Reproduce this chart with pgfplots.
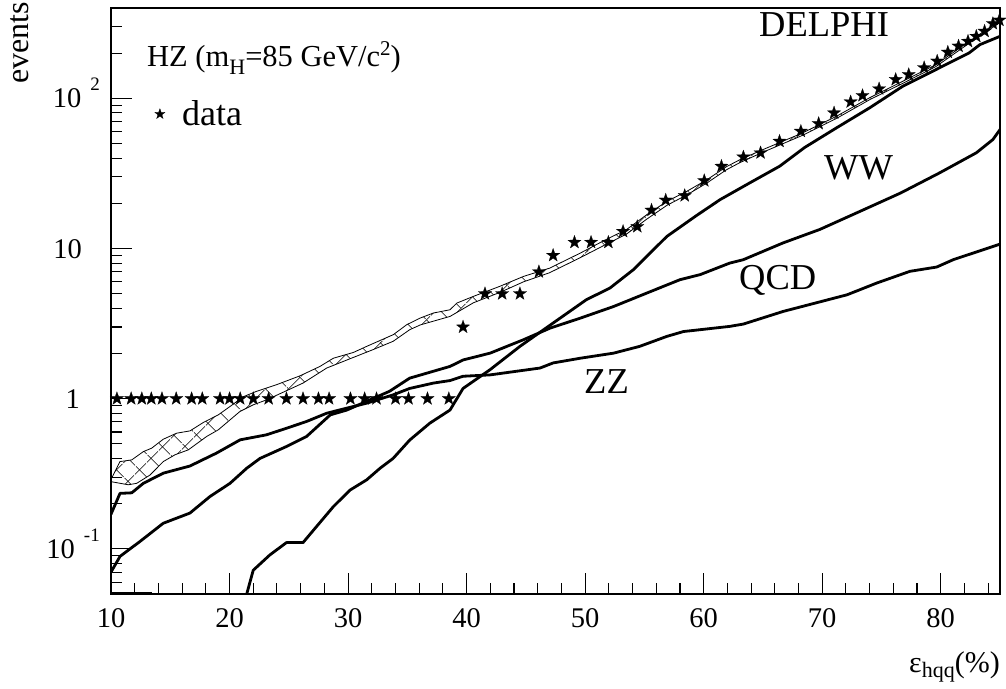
\documentclass[border=0pt]{standalone}
\usepackage{fontspec}
\setmainfont{Liberation Serif}
\usepackage{pgfplots}
\pgfplotsset{compat=1.18}
\usetikzlibrary{patterns.meta}

\pgfdeclareplotmark{fstar}{%
  \pgfpathmoveto{\pgfpointpolar{90}{\pgfplotmarksize}}%
  \pgfpathlineto{\pgfpointpolar{126}{0.4*\pgfplotmarksize}}%
  \pgfpathlineto{\pgfpointpolar{162}{\pgfplotmarksize}}%
  \pgfpathlineto{\pgfpointpolar{198}{0.4*\pgfplotmarksize}}%
  \pgfpathlineto{\pgfpointpolar{234}{\pgfplotmarksize}}%
  \pgfpathlineto{\pgfpointpolar{270}{0.4*\pgfplotmarksize}}%
  \pgfpathlineto{\pgfpointpolar{306}{\pgfplotmarksize}}%
  \pgfpathlineto{\pgfpointpolar{342}{0.4*\pgfplotmarksize}}%
  \pgfpathlineto{\pgfpointpolar{18}{\pgfplotmarksize}}%
  \pgfpathlineto{\pgfpointpolar{54}{0.4*\pgfplotmarksize}}%
  \pgfpathclose
  \pgfusepathqfillstroke}

\newcommand\fbig{\fontsize{36.5}{40}\selectfont}
\newcommand\ftick{\fontsize{28.5}{30}\selectfont}
\newcommand\tenexp[1]{10\hspace{9pt}\raisebox{17pt}{\fontsize{19}{20}\selectfont #1}}

\begin{document}
\begin{tikzpicture}
\useasboundingbox (0,0) rectangle (1006pt,688pt);
\begin{axis}[
  at={(111pt,94pt)}, anchor=south west,
  scale only axis, width=889pt, height=586pt,
  xmin=10, xmax=85, ymode=log, ymin=0.05, ymax=400,
  axis line style={line width=1.2pt},
  xtick={10,20,30,40,50,60,70,80},
  xticklabels={10,20,30,40,50,60,70,80},
  minor xtick={12,14,16,18,22,24,26,28,32,34,36,38,42,44,46,48,52,54,56,58,62,64,66,68,72,74,76,78,82,84},
  ytick={0.1,1,10,100},
  yticklabels={\tenexp{-1},1\rule{20pt}{0pt},10\rule{18pt}{0pt},\tenexp{2}},
  minor ytick={0.05,0.06,0.07,0.08,0.09,0.2,0.3,0.4,0.5,0.6,0.7,0.8,0.9,2,3,4,5,6,7,8,9,20,30,40,50,60,70,80,90,200,300,400},
  tick align=inside, xtick pos=left, ytick pos=left,
  major tick length=21pt, minor tick length=11pt,
  xtick style={black, line width=1.1pt},
  ytick style={black, line width=1.1pt},
  tick label style={font=\ftick},
  xticklabel style={anchor=north, inner sep=0pt, yshift=-14pt},
  yticklabel style={anchor=base east, inner sep=0pt, xshift=-11pt, yshift=-9.5pt},
  legend style={at={(0.0489,0.819)}, anchor=west, draw=none, fill=none,
    inner sep=0pt, font=\fontsize{36}{38}\selectfont,
    nodes={inner sep=0pt}, column sep=17pt},
  legend image code/.code={\draw[#1,mark size=5.5pt] plot coordinates {(0pt,0pt)};},
]
% total MC band: hatched area (upper edge, then lower edge reversed)
\addplot[draw=none, pattern={Lines[angle=45,distance=17pt,line width=0.6pt]}, forget plot] coordinates {
(10.0,0.29)(10.76,0.381)(11.75,0.391)(12.73,0.444)(13.43,0.468)(14.41,0.537)(15.54,0.589)(16.66,0.61)(17.79,0.694)(19.05,0.78)(20.04,0.887)(21.16,1.03)(22.29,1.12)(23.98,1.24)(25.95,1.42)(27.63,1.64)(28.76,1.86)(30.44,2.03)(31.57,2.23)(33.82,2.67)(34.95,3.11)(36.07,3.44)(37.2,3.72)(38.6,3.91)(39.17,4.33)(40.57,4.8)(42.8,5.6)(44.8,6.52)(47.0,7.4)(49.6,9.33)(51.5,11.2)(53.5,13.4)(55.2,16.8)(56.9,20.6)(58.6,24.1)(60.3,28.8)(61.9,35)(63.07,39.1)(65.0,45.6)(68.35,58.9)(71.2,76)(74.0,101)(76.8,130)(79.6,168)(82.4,240)(85,330)
(85,320)(82.4,233)(79.6,163)(76.8,126)(74.0,98)(71.2,73.5)(68.35,56.8)(65.0,43.8)(63.07,37.4)(61.9,33.4)(60.3,27.4)(58.6,22.8)(56.9,19.4)(55.2,15.7)(53.5,12.5)(51.5,10.4)(49.6,8.7)(47.0,6.9)(44.8,6.0)(42.8,5.1)(40.57,4.35)(38.6,3.53)(36.1,3.1)(35.2,2.88)(33.8,2.41)(32.1,2.12)(29.9,1.81)(28.2,1.6)(26.2,1.27)(24.7,1.12)(23.1,0.98)(22.0,0.91)(20.88,0.822)(19.05,0.62)(18.07,0.56)(16.52,0.456)(15.4,0.423)(14.41,0.381)(13.29,0.31)(12.17,0.273)(11.46,0.267)(10.0,0.28)} -- cycle;
\addplot[draw=none, pattern={Lines[angle=-45,distance=17pt,line width=0.6pt]}, forget plot] coordinates {
(10.0,0.29)(10.76,0.381)(11.75,0.391)(12.73,0.444)(13.43,0.468)(14.41,0.537)(15.54,0.589)(16.66,0.61)(17.79,0.694)(19.05,0.78)(20.04,0.887)(21.16,1.03)(22.29,1.12)(23.98,1.24)(25.95,1.42)(27.63,1.64)(28.76,1.86)(30.44,2.03)(31.57,2.23)(33.82,2.67)(34.95,3.11)(36.07,3.44)(37.2,3.72)(38.6,3.91)(39.17,4.33)(40.57,4.8)(42.8,5.6)(44.8,6.52)(47.0,7.4)(49.6,9.33)(51.5,11.2)(53.5,13.4)(55.2,16.8)(56.9,20.6)(58.6,24.1)(60.3,28.8)(61.9,35)(63.07,39.1)(65.0,45.6)(68.35,58.9)(71.2,76)(74.0,101)(76.8,130)(79.6,168)(82.4,240)(85,330)
(85,320)(82.4,233)(79.6,163)(76.8,126)(74.0,98)(71.2,73.5)(68.35,56.8)(65.0,43.8)(63.07,37.4)(61.9,33.4)(60.3,27.4)(58.6,22.8)(56.9,19.4)(55.2,15.7)(53.5,12.5)(51.5,10.4)(49.6,8.7)(47.0,6.9)(44.8,6.0)(42.8,5.1)(40.57,4.35)(38.6,3.53)(36.1,3.1)(35.2,2.88)(33.8,2.41)(32.1,2.12)(29.9,1.81)(28.2,1.6)(26.2,1.27)(24.7,1.12)(23.1,0.98)(22.0,0.91)(20.88,0.822)(19.05,0.62)(18.07,0.56)(16.52,0.456)(15.4,0.423)(14.41,0.381)(13.29,0.31)(12.17,0.273)(11.46,0.267)(10.0,0.28)} -- cycle;
\addplot[black, line width=0.8pt, forget plot] coordinates {
(10.0,0.29)(10.76,0.381)(11.75,0.391)(12.73,0.444)(13.43,0.468)(14.41,0.537)(15.54,0.589)(16.66,0.61)(17.79,0.694)(19.05,0.78)(20.04,0.887)(21.16,1.03)(22.29,1.12)(23.98,1.24)(25.95,1.42)(27.63,1.64)(28.76,1.86)(30.44,2.03)(31.57,2.23)(33.82,2.67)(34.95,3.11)(36.07,3.44)(37.2,3.72)(38.6,3.91)(39.17,4.33)(40.57,4.8)(42.8,5.6)(44.8,6.52)(47.0,7.4)(49.6,9.33)(51.5,11.2)(53.5,13.4)(55.2,16.8)(56.9,20.6)(58.6,24.1)(60.3,28.8)(61.9,35)(63.07,39.1)(65.0,45.6)(68.35,58.9)(71.2,76)(74.0,101)(76.8,130)(79.6,168)(82.4,240)(85,330)};
\addplot[black, line width=0.8pt, forget plot] coordinates {
(10.0,0.28)(11.46,0.267)(12.17,0.273)(13.29,0.31)(14.41,0.381)(15.4,0.423)(16.52,0.456)(18.07,0.56)(19.05,0.62)(20.88,0.822)(22.0,0.91)(23.1,0.98)(24.7,1.12)(26.2,1.27)(28.2,1.6)(29.9,1.81)(32.1,2.12)(33.8,2.41)(35.2,2.88)(36.1,3.1)(38.6,3.53)(40.57,4.35)(42.8,5.1)(44.8,6.0)(47.0,6.9)(49.6,8.7)(51.5,10.4)(53.5,12.5)(55.2,15.7)(56.9,19.4)(58.6,22.8)(60.3,27.4)(61.9,33.4)(63.07,37.4)(65.0,43.8)(68.35,56.8)(71.2,73.5)(74.0,98)(76.8,126)(79.6,163)(82.4,233)(85,320)};
% WW
\addplot[black, line width=2.8pt, line join=round, forget plot] coordinates {
(21.3,0.045)(21.45,0.05)(22.0,0.072)(23.4,0.091)(24.8,0.11)(26.2,0.11)(27.35,0.141)(28.76,0.191)(30.16,0.246)(31.57,0.288)(32.7,0.344)(33.8,0.40)(35.2,0.53)(36.9,0.687)(38.6,0.84)(39.7,1.17)(41.98,1.56)(44.5,2.23)(47.3,3.19)(50.1,4.56)(52.1,5.46)(54.07,7.23)(55.2,8.87)(56.9,12.05)(59.4,16.6)(61.4,21.2)(63.9,27.4)(66.4,35.3)(68.5,47)(71.2,63.6)(74.0,86.5)(76.8,120.5)(79.6,155.6)(82.4,201)(83.3,228)(85,259)};
% QCD
\addplot[black, line width=2.8pt, line join=round, forget plot] coordinates {
(10.0,0.07)(10.76,0.089)(12.45,0.112)(14.41,0.148)(16.66,0.173)(18.35,0.223)(20.04,0.273)(21.45,0.344)(22.57,0.40)(24.8,0.48)(26.5,0.56)(28.5,0.78)(29.9,0.84)(31.57,0.96)(33.5,1.12)(35.2,1.37)(38.6,1.64)(39.7,1.81)(41.98,2.01)(44.8,2.47)(47.04,2.95)(49.6,3.44)(52.4,4.11)(55.2,5.05)(58.0,6.2)(59.7,6.7)(62.2,8.0)(63.35,8.43)(66.7,10.9)(69.8,13.4)(73.2,17.7)(76.6,23.4)(79.9,31.9)(83.0,43.4)(84.4,53.2)(85,62)};
% ZZ
\addplot[black, line width=2.8pt, line join=round, forget plot] coordinates {
(10.0,0.17)(10.76,0.234)(11.75,0.236)(12.73,0.273)(14.41,0.319)(16.66,0.356)(18.9,0.434)(20.9,0.532)(23.1,0.574)(24.8,0.635)(26.5,0.705)(28.2,0.80)(29.9,0.865)(31.57,0.933)(33.8,1.06)(35.2,1.17)(37.2,1.27)(38.6,1.32)(39.7,1.41)(41.98,1.44)(46.2,1.6)(47.3,1.73)(49.6,1.86)(52.4,2.01)(54.6,2.23)(56.9,2.6)(58.3,2.8)(59.7,2.88)(62.2,3.03)(63.35,3.14)(66.7,3.81)(72.1,4.92)(74.6,5.89)(77.4,7.05)(79.66,7.53)(81.06,8.43)(85,10.7)};
% small clipped background at the bottom
\addplot[black, line width=2.8pt, forget plot] coordinates {(10,0.0505)(13.5,0.0505)};
% data
\addplot[only marks, mark=fstar, mark size=7pt, mark options={fill=black, draw=black, line width=0.2pt}] coordinates {
(10.5,1)(11.7,1)(12.6,1)(13.4,1)(14.3,1)(15.5,1)(16.8,1)(17.7,1)(19.2,1)(20.0,1)(20.9,1)(22.0,1)(23.3,1)(24.8,1)(26.2,1)(27.5,1)(28.4,1)(30.2,1)(31.4,1)(32.4,1)(34.0,1)(35.1,1)(36.7,1)(38.5,1)
(39.7,3)(41.55,5)(43.0,5)(44.5,5)(46.1,7)(47.3,9)(49.1,11)(50.5,11)(51.96,11)(53.2,13)(54.4,14)(55.6,18)(56.8,21)(58.4,22.5)(60.05,28.3)(61.5,35.3)(63.35,40.7)(64.8,43.4)(66.4,51.8)(68.2,60.4)(69.7,68)(71.0,80)(72.4,94.8)(73.4,104.4)(74.8,115.8)(76.2,133.6)(77.3,144)(78.6,160)(79.7,177)(80.6,203)(81.5,223)(82.3,240)(83.0,259)(83.7,280)(84.4,315)(84.95,332)};
\addlegendentry{data}
\end{axis}
\node[anchor=base west, inner sep=0pt, font=\fontsize{30.5}{32}\selectfont] at (147pt,621pt)
  {HZ (m\raisebox{-8pt}{\fontsize{22}{24}\selectfont H}=85 GeV/c\raisebox{11pt}{\fontsize{21}{22}\selectfont 2})};
\node[anchor=base west, inner sep=0pt, font=\fbig] at (759pt,651pt) {DELPHI};
\node[anchor=base west, inner sep=0pt, font=\fbig] at (824pt,508pt) {WW};
\node[anchor=base west, inner sep=0pt, font=\fbig] at (739pt,398pt) {QCD};
\node[anchor=base west, inner sep=0pt, font=\fbig] at (584pt,294pt) {ZZ};
\node[rotate=90, anchor=base east, inner sep=0pt, font=\fontsize{32}{34}\selectfont] at (28pt,686pt) {events};
\node[anchor=base east, inner sep=0pt, font=\fontsize{30}{32}\selectfont] at (1000pt,16pt)
  {ε\raisebox{-5pt}{\fontsize{22}{24}\selectfont hqq}(\%)};
\end{tikzpicture}
\end{document}
